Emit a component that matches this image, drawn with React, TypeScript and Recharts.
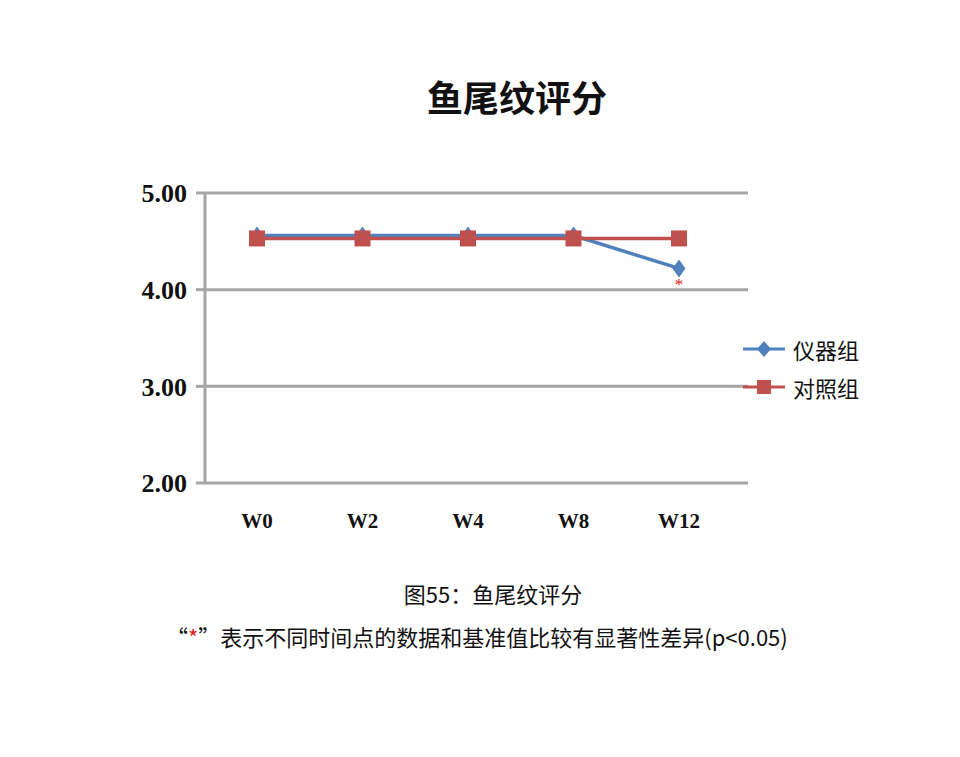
import React from "react";
import { CartesianGrid, LabelList, Line, LineChart, XAxis, YAxis } from "recharts";

const weeks = ["W0", "W2", "W4", "W8", "W12"];
const deviceScores = [4.56, 4.56, 4.56, 4.56, 4.22];
const controlScores = [4.53, 4.53, 4.53, 4.53, 4.53];
const deviceSignif = ["", "", "", "", "*"];
const yTicks = [2, 3, 4, 5];

const BLUE = "#4f81bd";
const RED = "#c0504d";
const GRID = "#a6a6a6";
const SERIF = "'Liberation Serif', 'Noto Sans CJK SC', serif";
const CJK = "'Noto Sans CJK SC', sans-serif";

const data = weeks.map((w, i) => ({
  week: w,
  device: deviceScores[i],
  control: controlScores[i],
  sig: deviceSignif[i],
}));

const Diamond = (props: any) => {
  const { cx, cy } = props;
  if (cx == null || cy == null) return null;
  const r = 9;
  return <polygon points={`${cx},${cy - r} ${cx + r * 0.72},${cy} ${cx},${cy + r} ${cx - r * 0.72},${cy}`} fill={BLUE} />;
};

const Square = (props: any) => {
  const { cx, cy } = props;
  if (cx == null || cy == null) return null;
  return <rect x={cx - 8} y={cy - 8} width={16} height={16} fill={RED} />;
};

const SigMark = (props: any) => {
  const { x, y, value } = props;
  if (!value) return null;
  return (
    <text x={x} y={y + 22} textAnchor="middle" fill="#e02020" fontSize={17} fontFamily={SERIF}>
      {value}
    </text>
  );
};

const LegendBox = () => (
  <div style={{ fontFamily: CJK, fontSize: 22, color: "#111" }}>
    <div style={{ display: "flex", alignItems: "center", height: 38 }}>
      <svg width={44} height={20}>
        <line x1={0} y1={10} x2={42} y2={10} stroke={BLUE} strokeWidth={3} />
        <polygon points="21,2 28,10 21,18 14,10" fill={BLUE} />
      </svg>
      <span style={{ marginLeft: 6 }}>仪器组</span>
    </div>
    <div style={{ display: "flex", alignItems: "center", height: 38 }}>
      <svg width={44} height={20}>
        <line x1={0} y1={10} x2={42} y2={10} stroke={RED} strokeWidth={3} />
        <rect x={14} y={3} width={14} height={14} fill={RED} />
      </svg>
      <span style={{ marginLeft: 6 }}>对照组</span>
    </div>
  </div>
);

export default function App() {
  return (
    <div style={{ position: "absolute", left: 0, top: 0, width: 960, height: 757, background: "#fff" }}>
      <div
        style={{
          position: "absolute",
          left: 0,
          width: 1034,
          top: 70,
          textAlign: "center",
          fontFamily: CJK,
          fontWeight: 700,
          fontSize: 36,
          color: "#111",
        }}
      >
        鱼尾纹评分
      </div>
      <div style={{ position: "absolute", left: 0, top: 0 }}>
        <LineChart width={960} height={757} data={data} margin={{ top: 193, right: 212, bottom: 244, left: 145 }}>
          <CartesianGrid vertical={false} stroke={GRID} strokeWidth={3} />
          <XAxis
            dataKey="week"
            height={30}
            padding={{ left: 52, right: 69 }}
            axisLine={false}
            tickLine={false}
            tick={{ fontFamily: SERIF, fontWeight: 700, fontSize: 21, fill: "#111" }}
            dy={22}
          />
          <YAxis
            domain={[2, 5]}
            ticks={yTicks}
            width={60}
            axisLine={{ stroke: GRID, strokeWidth: 3 }}
            tickLine={{ stroke: GRID, strokeWidth: 3 }}
            tickSize={9}
            tickMargin={9}
            tickFormatter={(v: number) => v.toFixed(2)}
            tick={{ fontFamily: SERIF, fontWeight: 700, fontSize: 26, fill: "#111" }}
          />
          <Line
            dataKey="device"
            stroke={BLUE}
            strokeWidth={3.5}
            dot={<Diamond />}
            activeDot={false}
            isAnimationActive={false}
          >
            <LabelList dataKey="sig" content={<SigMark />} />
          </Line>
          <Line
            dataKey="control"
            stroke={RED}
            strokeWidth={3.5}
            dot={<Square />}
            activeDot={false}
            isAnimationActive={false}
          />
        </LineChart>
      </div>
      <div style={{ position: "absolute", left: 743, top: 330 }}>
        <LegendBox />
      </div>
      <div
        style={{
          position: "absolute",
          left: 0,
          width: 986,
          top: 577,
          textAlign: "center",
          fontFamily: CJK,
          fontSize: 22,
          color: "#111",
        }}
      >
        图55：鱼尾纹评分
      </div>
      <div
        style={{
          position: "absolute",
          left: 166,
          top: 620,
          fontFamily: CJK,
          fontSize: 22,
          color: "#111",
          whiteSpace: "nowrap",
        }}
      >
        “<span style={{ color: "#e02020" }}>*</span>”表示不同时间点的数据和基准值比较有显著性差异(p&lt;0.05)
      </div>
    </div>
  );
}
